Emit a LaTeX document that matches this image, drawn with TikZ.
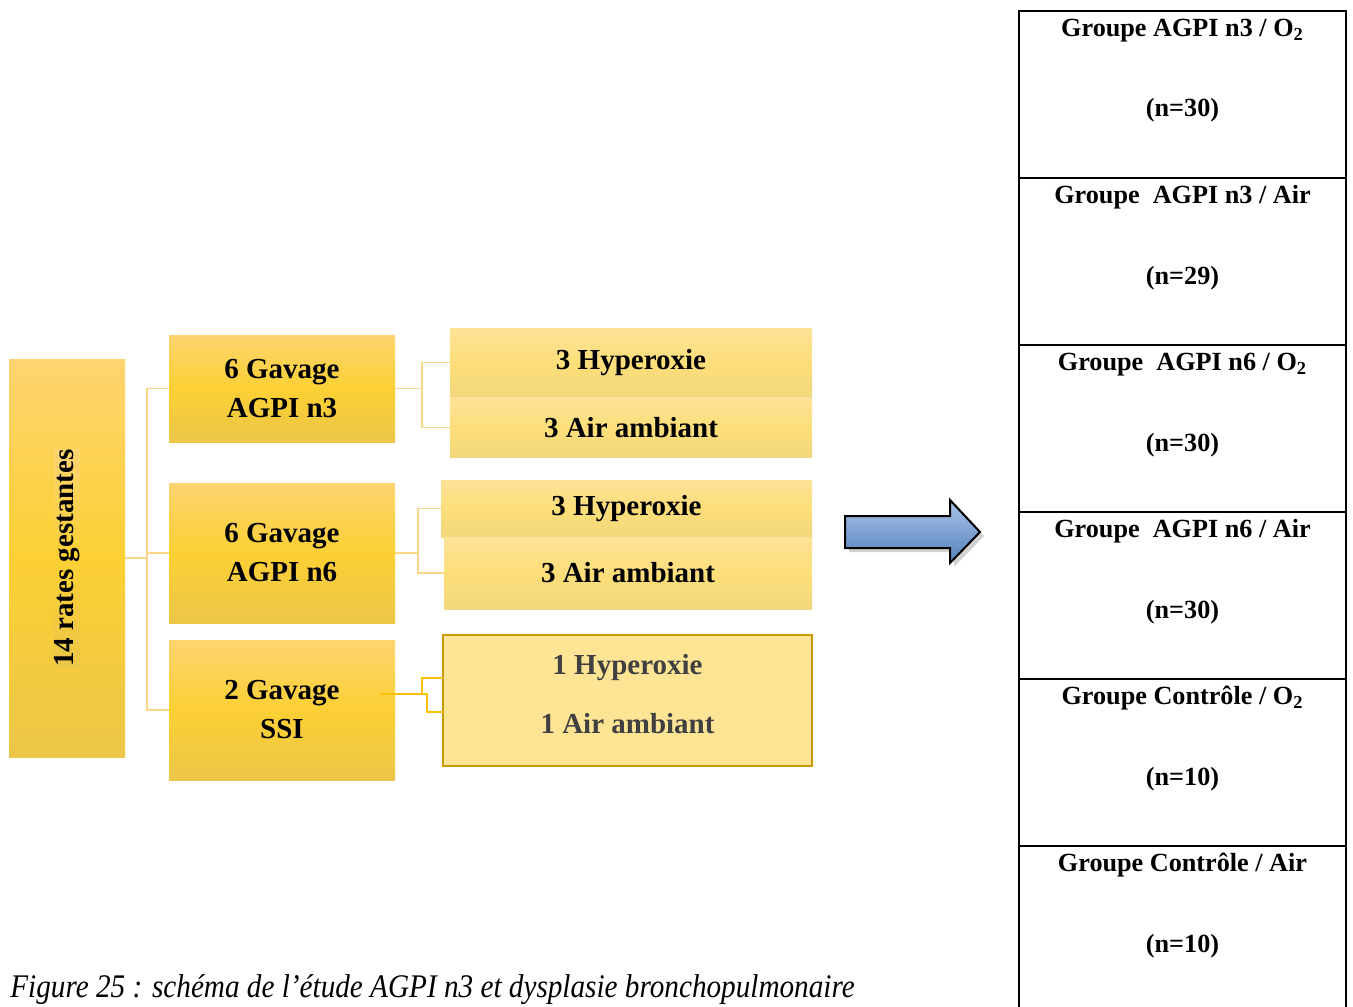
\documentclass[tikz,border=0pt]{standalone}
\usepackage{fontspec}
\usepackage{graphicx}
\setmainfont{Liberation Serif}
\usetikzlibrary{positioning,shadows}
\definecolor{goldtop}{RGB}{253,212,112}
\definecolor{goldmid}{RGB}{252,208,52}
\definecolor{goldbot}{RGB}{236,198,72}
\definecolor{lighttop}{RGB}{254,226,152}
\definecolor{lightmid}{RGB}{253,222,122}
\definecolor{lightbot}{RGB}{242,215,124}
\definecolor{ssifill}{RGB}{254,229,150}
\definecolor{ssiline}{RGB}{200,154,0}
\definecolor{linklight}{RGB}{252,214,135}
\definecolor{linkgold}{RGB}{255,192,0}
\definecolor{darktext}{RGB}{64,64,64}
\definecolor{arrowtop}{RGB}{172,196,230}
\definecolor{arrowbot}{RGB}{82,128,190}
\tikzset{gold node/.style={rectangle,top color=goldtop,bottom color=goldbot,middle color=goldmid,
            inner sep=0pt,align=center,font=\fontsize{14.5}{19.5}\selectfont\bfseries},
         sub node/.style={rectangle,top color=lighttop,bottom color=lightbot,middle color=lightmid,
            inner sep=0pt,font=\fontsize{14.5}{17}\selectfont\bfseries},
         link/.style={draw=linklight,line width=0.6pt},
         link gold/.style={draw=linkgold,line width=1pt},
         row box/.style={rectangle,draw,line width=1pt,minimum width=163.5pt,minimum height=83.5pt,inner sep=0pt},
         row text/.style={anchor=base,inner sep=0pt,font=\fontsize{13.1}{15}\selectfont\bfseries},
            }

\begin{document}
\begin{tikzpicture}[x=0.5pt,y=-0.5pt]
    \useasboundingbox (0,0) rectangle (1353,1006);

    % first level
    \node[gold node,minimum width=58pt,minimum height=199pt] (root) at (67,558) {};
    \node[gold node,rotate=90] at (root.center) {14 rates gestantes};
    \node[gold node,minimum width=113pt,minimum height=53.5pt] (gn3) at (282,388.5) {6 Gavage\\AGPI n3};
    \node[gold node,minimum width=113pt,minimum height=70pt] (gn6) at (282,553) {6 Gavage\\AGPI n6};
    \node[gold node,minimum width=113pt,minimum height=70pt] (gssi) at (282,710) {2 Gavage\\SSI};

    % second level
    \node[sub node,minimum width=181pt,minimum height=34.5pt] (hyp1) at (631,362.5) {\raisebox{-1.5pt}{3 Hyperoxie}};
    \node[sub node,minimum width=181pt,minimum height=30pt] (air1) [below = 0pt of hyp1] {3 Air ambiant};
    \node[sub node,minimum width=185.5pt,minimum height=28.5pt] (hyp2) at (626.5,508.5) {3 Hyperoxie};
    \node[sub node,minimum width=184pt,minimum height=36pt] (air2) at (628,573) {3 Air ambiant};
    \node[rectangle,fill=ssifill,draw=ssiline,line width=1pt,minimum width=184.5pt,minimum height=65.5pt,
          inner sep=0pt] (ssigrp) at (627.5,700.5) {};
    \node[text=darktext,font=\fontsize{14.5}{17}\selectfont\bfseries] (hyp3) at (627.5,668) {1 Hyperoxie};
    \node[text=darktext,font=\fontsize{14.5}{17}\selectfont\bfseries] (air3) at (627.5,724) {1 Air ambiant};

    % connectors
    \coordinate (j0) at (147,558);
    \coordinate (j1) at (422,388.5);
    \coordinate (j2) at (418,553);
    \coordinate (s0) at (380,694);
    \coordinate (j3) at (422,694);
    \coordinate (j4) at (427,694);
    \coordinate (e1) at (443,678);
    \coordinate (e2) at (443,712);
    \draw[link] (root) -- (j0) |- (gn3);
    \draw[link] (j0) |- (gn6);
    \draw[link] (j0) |- (gssi);
    \draw[link] (gn3) -- (j1) |- (hyp1);
    \draw[link] (j1) |- (air1);
    \draw[link] (gn6) -- (j2) |- (hyp2);
    \draw[link] (j2) |- (air2);
    \draw[link gold] (s0) -- (j3) |- (e1);
    \draw[link gold] (j3) -- (j4) |- (e2);

    % arrow
    \path[draw=black,line width=1pt,top color=arrowtop,bottom color=arrowbot,
          drop shadow={shadow xshift=2pt,shadow yshift=-2pt,fill=black!35}]
        (845,516) -- (950,516) -- (950,500) -- (980,532) -- (950,563) -- (950,548) -- (845,548) -- cycle;

    % groups
    \foreach \i/\ttl/\cnt in {1/{Groupe AGPI n3 / O\textsubscript{2}}/30,
                              2/{Groupe\ \ AGPI n3 / Air}/29,
                              3/{Groupe\ \ AGPI n6 / O\textsubscript{2}}/30,
                              4/{Groupe\ \ AGPI n6 / Air}/30,
                              5/{Groupe Contrôle / O\textsubscript{2}}/10,
                              6/{Groupe Contrôle / Air}/10} {
        \node[row box] (row\i) at (1182.5,{94.5+167*(\i-1)}) {};
        \node[row text] (ttl\i) at ([yshift=-13.25pt]row\i.north) {\ttl};
        \node[row text] (cnt\i) at ([yshift=-53.5pt]row\i.north) {(n=\cnt)};
    }

    \node[anchor=base west,inner sep=0pt,font=\fontsize{16.5}{18}\selectfont\itshape] (caption) at (10,997)
        {\scalebox{0.885}[1]{Figure 25 : schéma de l’étude AGPI n3 et dysplasie bronchopulmonaire}};
\end{tikzpicture}
\end{document}
